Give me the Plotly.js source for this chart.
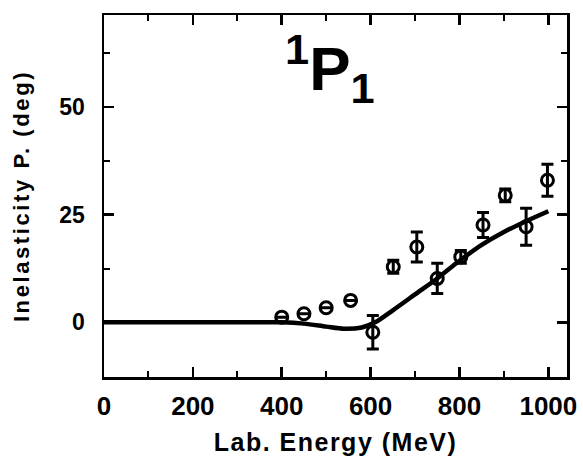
<!DOCTYPE html>
<html>
<head>
<meta charset="utf-8">
<script src="https://cdn.plot.ly/plotly-3.0.1.min.js"></script>
<style>
  html, body { margin: 0; padding: 0; background: #fff; }
  #chart { width: 583px; height: 457px; }
  /* wide, heavy axis titles */
  #chart .xtitle { letter-spacing: 1.5px; }
  #chart .ytitle { letter-spacing: 2.6px; }
</style>
</head>
<body>
<div id="chart"></div>
<script>
// Measured inelasticity parameter for the 1P1 partial wave
const energy = [400, 450, 500, 555, 605, 651, 704, 750, 803, 853, 903, 950, 998];
const inelasticity = [1.2, 2.0, 3.4, 5.1, -2.3, 12.9, 17.5, 10.2, 15.2, 22.6, 29.5, 22.2, 33.0];
const errors = [0, 0, 0, 0, 3.9, 1.5, 3.5, 3.5, 1.5, 2.9, 1.5, 4.3, 3.7];

// Theoretical prediction curve
const fitEnergy = [0, 100, 200, 300, 400, 450, 500, 540, 580, 610, 650, 700, 750, 800, 850, 900, 950, 1000];
const fitValue = [0, 0, 0, 0, 0, -0.3, -1.0, -1.5, -1.2, 0, 2.8, 6.5, 10.2, 14.3, 18.0, 21.0, 23.5, 25.8];

const xTicks = [0, 200, 400, 600, 800, 1000];
const yTicks = [0, 25, 50];

const family = 'Liberation Sans, Arial, sans-serif';

const traces = [
  {
    x: fitEnergy, y: fitValue, type: 'scatter', mode: 'lines',
    line: { color: '#000', width: 4.5, shape: 'spline', smoothing: 0.8 },
    hoverinfo: 'skip'
  },
  {
    x: energy, y: inelasticity, type: 'scatter', mode: 'markers',
    marker: { symbol: 'circle-open', size: 12, color: '#000', line: { width: 3, color: '#000' } },
    error_y: { type: 'data', array: errors, visible: true, color: '#000', thickness: 3, width: 6 }
  }
];

const axisCommon = {
  showline: true, linecolor: '#000', linewidth: 2.5, mirror: 'ticks',
  ticks: 'inside', ticklen: 10, tickwidth: 2.5, tickcolor: '#000',
  showgrid: false, zeroline: false
};

const layout = {
  width: 583, height: 457,
  margin: { l: 104, r: 16, t: 15, b: 80 },
  paper_bgcolor: '#fff', plot_bgcolor: '#fff',
  showlegend: false,
  xaxis: Object.assign({}, axisCommon, {
    range: [0, 1042], tickvals: xTicks, ticktext: xTicks.map(String),
    tickfont: { family: family, size: 26, weight: 'bold', color: '#000' },
    ticklabelstandoff: 4,
    minor: { dtick: 100, ticks: 'inside', ticklen: 6, tickwidth: 2, tickcolor: '#000' },
    title: { text: 'Lab. Energy (MeV)', standoff: 14,
      font: { family: family, size: 25, weight: 'bold', color: '#000' } }
  }),
  yaxis: Object.assign({}, axisCommon, {
    range: [-12.7, 71.4], tickvals: yTicks, ticktext: yTicks.map(String),
    tickfont: { family: family, size: 23, weight: 'bold', color: '#000' },
    ticklabelstandoff: 12,
    minor: { tickvals: [-12.5, 12.5, 37.5, 62.5], ticks: 'inside', ticklen: 6, tickwidth: 2, tickcolor: '#000' },
    title: { text: 'Inelasticity P. (deg)', standoff: 24,
      font: { family: family, size: 22, weight: 'bold', color: '#000' } }
  }),
  annotations: [{
    xref: 'paper', yref: 'paper', x: 0.488, y: 0.852,
    xanchor: 'center', yanchor: 'middle', showarrow: false,
    text: '<sup>1</sup>P<sub>1</sub>',
    font: { family: family, size: 62, weight: 'bold', color: '#000' }
  }]
};

Plotly.newPlot('chart', traces, layout, { staticPlot: true, displayModeBar: false });
</script>
</body>
</html>
